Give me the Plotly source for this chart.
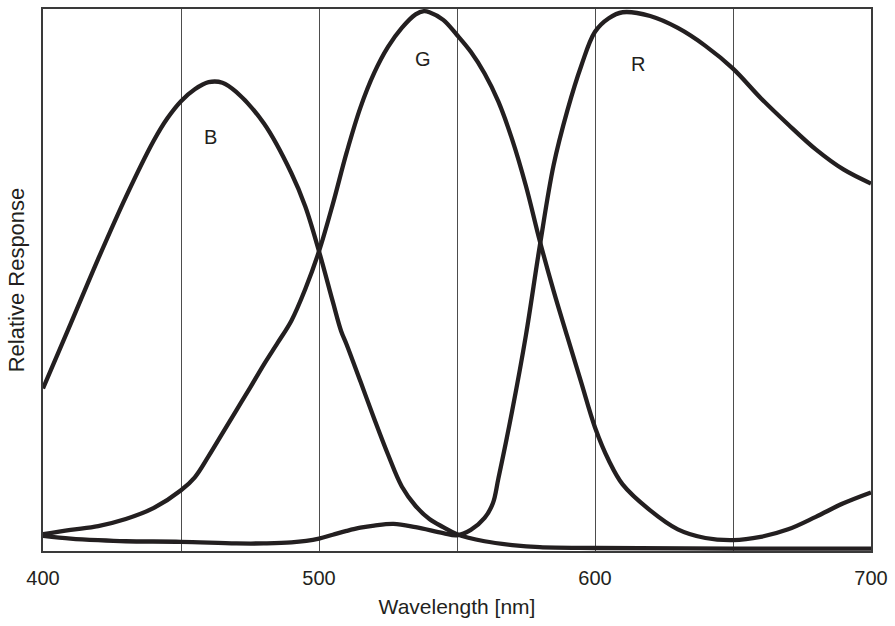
import plotly.graph_objects as go

# Wavelength samples (nm) and relative responses (0-100) per channel
b_wl = [400, 410, 420, 430, 440, 445, 450, 455, 460, 465, 470, 480, 490, 495, 500, 505,
        508, 510, 515, 520, 525, 530, 535, 540, 545, 550, 560, 570, 580, 600, 650, 700]
b_val = [30.0, 41.9, 53.9, 65.3, 75.6, 79.8, 83.0, 85.2, 86.5, 86.4, 84.7, 78.9, 69.7, 63.6, 55.3, 46.0,
         40.6, 38.1, 31.3, 24.4, 17.8, 11.9, 8.3, 5.9, 4.4, 3.1, 1.8, 1.1, 0.7, 0.55, 0.45, 0.45]

g_wl = [400, 410, 420, 430, 440, 450, 455, 460, 465, 470, 475, 480, 485, 490, 495, 500,
        505, 510, 515, 520, 525, 530, 535, 538, 540, 545, 550, 555, 560, 565, 570, 575,
        580, 585, 590, 595, 600, 605, 610, 620, 630, 640, 650, 660, 670, 680, 690, 700]
g_val = [3.1, 3.9, 4.6, 5.9, 7.9, 11.2, 13.6, 17.5, 21.7, 25.9, 30.1, 34.4, 38.4, 42.5, 48.3, 55.3,
         64.0, 73.5, 81.8, 88.2, 93.0, 96.5, 99.0, 99.6, 99.4, 98.0, 95.2, 92.1, 88.1, 82.9, 75.9, 67.3,
         57.2, 48.0, 39.5, 31.1, 22.8, 16.7, 12.3, 7.5, 4.0, 2.4, 2.0, 2.6, 4.0, 6.3, 8.8, 10.8]

r_wl = [400, 410, 420, 430, 450, 470, 480, 490, 500, 505, 510, 515, 520, 527, 535, 545, 550, 555,
        560, 563, 565, 570, 575, 580, 585, 590, 595, 600, 605, 610, 620, 630, 640, 650,
        660, 670, 680, 690, 700]
r_val = [2.8, 2.3, 2.0, 1.8, 1.7, 1.4, 1.4, 1.6, 2.3, 3.0, 3.7, 4.3, 4.7, 5.0, 4.4, 3.3, 2.9, 3.9,
         6.1, 8.8, 13.4, 25.9, 39.9, 56.3, 71.2, 81.3, 89.5, 95.8, 98.3, 99.4, 98.7, 96.5, 93.2, 89.0,
         83.6, 78.7, 74.1, 70.4, 67.8]

channel_names = ["B", "G", "R"]
x_tickvals = [400, 450, 500, 550, 600, 650, 700]
x_ticktext = ["400", "", "500", "", "600", "", "700"]

INK = "#231f20"
FONT = "Liberation Sans, Arial, sans-serif"

fig = go.Figure()
for name, xs, ys in zip(channel_names, [b_wl, g_wl, r_wl], [b_val, g_val, r_val]):
    fig.add_trace(go.Scatter(
        x=xs, y=ys, mode="lines", name=name,
        line=dict(color=INK, width=4.3, shape="spline", smoothing=1.0),
        showlegend=False, hoverinfo="x+y+name",
    ))

label_pos = {"B": (460.8, 76.3), "G": (537.5, 90.8), "R": (615.7, 89.9)}
for name in channel_names:
    lx, ly = label_pos[name]
    fig.add_annotation(x=lx, y=ly, text=name, showarrow=False,
                       font=dict(family=FONT, size=20, color=INK))

fig.update_layout(
    width=895, height=626,
    margin=dict(l=43, r=23, t=7, b=75),
    paper_bgcolor="white", plot_bgcolor="white",
    font=dict(family=FONT, size=20, color=INK),
    xaxis=dict(
        range=[400, 700], tickvals=x_tickvals, ticktext=x_ticktext,
        showgrid=True, gridcolor="#4d4d4d", gridwidth=1,
        showline=True, mirror=True, linecolor="#3a3a3a", linewidth=2,
        ticks="outside", ticklen=8, tickcolor="rgba(0,0,0,0)",
        zeroline=False,
        title=dict(text="Wavelength [nm]", standoff=11, font=dict(size=21)),
        tickfont=dict(size=20),
    ),
    yaxis=dict(
        range=[0, 100], showticklabels=False, showgrid=False, zeroline=False,
        showline=True, mirror=True, linecolor="#3a3a3a", linewidth=2,
        ticks="",
        title=dict(text="Relative Response", standoff=10, font=dict(size=22)),
    ),
)

fig.write_html("out.html")
